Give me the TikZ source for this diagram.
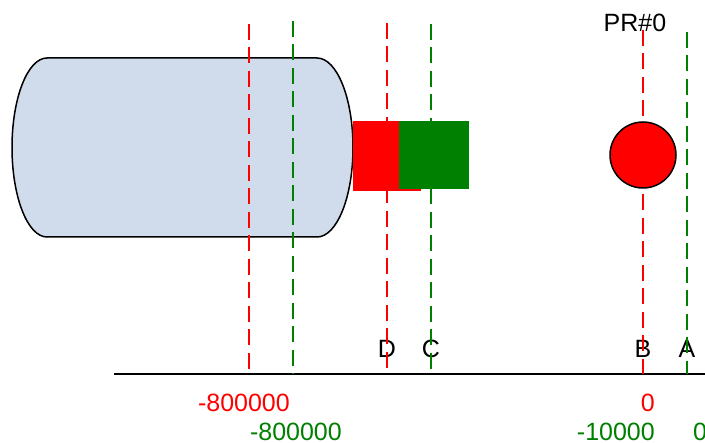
\documentclass[tikz,border=0pt]{standalone}
\usepackage{fontspec}
\setmainfont{Liberation Sans}
\definecolor{cylblue}{HTML}{D0DCEC}
\definecolor{dgreen}{HTML}{008000}
\tikzset{
  guide/.style={line width=2.5pt, dash pattern=on 16pt off 7.5pt},
  redguide/.style={guide, draw=red},
  greenguide/.style={guide, draw=dgreen},
  lbl/.style={inner sep=0pt, font=\fontsize{25}{30}\selectfont},
}
\begin{document}
\begin{tikzpicture}[x=1pt,y=-1pt]
\useasboundingbox (0,0) rectangle (705,443);
% cylinder
\draw[fill=cylblue, line width=1.5pt] (47,58) -- (317,58)
  arc[start angle=90, end angle=-90, x radius=36pt, y radius=89.5pt]
  -- (47,237)
  arc[start angle=270, end angle=90, x radius=35pt, y radius=89.5pt] -- cycle;
% blocks
\fill[red] (353,121) rectangle (421,191);
\node[fill=dgreen, inner sep=0pt, minimum width=70pt, minimum height=68pt, anchor=north west] (gblock) at (399,121) {};
% axis
\coordinate (axL) at (114,374);
\coordinate (axR) at (705,374);
\draw[line width=2.5pt] (axL) -- (axR);
% letters
\node[lbl, anchor=base] (D) at (387,358) {D};
\node[lbl, anchor=base] (C) at (431,358) {C};
\node[lbl, anchor=base] (B) at (643,358) {B};
\node[lbl, anchor=base] (A) at (687,358) {A};
% guides
\draw[redguide] (249,24) -- (249,374);
\draw[greenguide] (293,21) -- (293,374);
\draw[redguide] (387,23) -- (387,374);
\draw[greenguide] (431,24) -- (431,374);
\draw[redguide] (643,30) -- (643,374);
\draw[greenguide] (687,32) -- (687,374);
% particle
\node[circle, draw=black, line width=1.5pt, fill=red, minimum size=66pt, inner sep=0pt] (pr) at (643,155) {};
\node[lbl, anchor=base] (prlbl) at (635,32) {PR\#0};
% tick labels
\node[lbl, text=red, anchor=base east] (r1) at (290,412) {-800000};
\node[lbl, text=dgreen, anchor=base east] (g1) at (342,441) {-800000};
\node[lbl, text=red, anchor=base east] (r2) at (655,412) {0};
\node[lbl, text=dgreen, anchor=base east] (g2) at (655,441) {-10000};
\node[lbl, text=dgreen, anchor=base west] (g3) at (693,441) {0};
\end{tikzpicture}
\end{document}
